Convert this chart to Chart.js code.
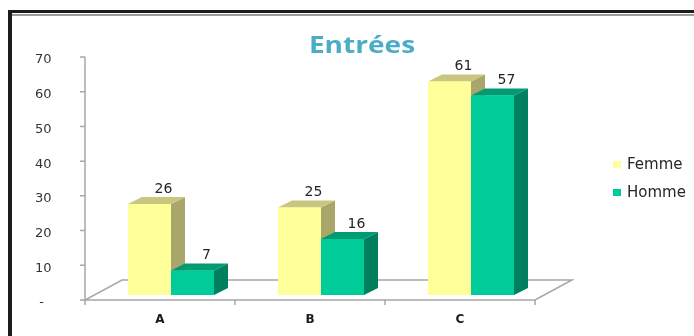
<!DOCTYPE html>
<html>
<head>
<meta charset="utf-8">
<title>Entrées</title>
<script src="https://cdn.jsdelivr.net/npm/chart.js@4.4.1/dist/chart.umd.min.js"></script>
<style>
  html, body { margin: 0; padding: 0; background: #fff; }
  #wrap { width: 694px; height: 336px; }
</style>
</head>
<body>
<div id="wrap"><canvas id="chart" width="694" height="336"></canvas></div>
<script>
// Data
const categories = ["A", "B", "C"];
const femme = [26, 25, 61];
const homme = [7, 16, 57];
const seriesNames = ["Femme", "Homme"];
const yTickStep = 10;
const yMax = 70;
const titleText = "Entrées";

// 3D look (pixels)
const DX = 14, DY = -7;    // bar depth
const FX = 37, FY = -20;   // floor depth
const SHIFT = 11;          // front axis sits left of the bar groups

const faceColors = [
  { front: "#FFFF99", side: "#A8A66B", top: "#C9C77F" },
  { front: "#00CC99", side: "#00805F", top: "#009B73" }
];

function poly(ctx, pts, fill) {
  ctx.beginPath();
  ctx.moveTo(pts[0][0], pts[0][1]);
  for (let i = 1; i < pts.length; i++) ctx.lineTo(pts[i][0], pts[i][1]);
  ctx.closePath();
  ctx.fillStyle = fill;
  ctx.fill();
}

const bar3d = {
  id: "bar3d",
  beforeDraw(chart) {
    const ctx = chart.ctx;
    ctx.save();
    ctx.fillStyle = "#fff";
    ctx.fillRect(0, 0, chart.width, chart.height);
    // frame
    ctx.fillStyle = "#1c1c1c";
    ctx.fillRect(8, 10, chart.width - 8, 3);
    ctx.fillRect(8, 10, 4, chart.height - 10);
    ctx.fillStyle = "#9c9c9c";
    ctx.fillRect(12, 14, chart.width - 12, 2);
    // title
    ctx.font = "bold 23px 'Open Sans'";
    ctx.fillStyle = "#4BACC6";
    ctx.textAlign = "center";
    ctx.textBaseline = "alphabetic";
    ctx.translate(362, 53);
    ctx.scale(1.22, 1);
    ctx.fillText(titleText, 0, 0);
    ctx.restore();
  },
  beforeDatasetsDraw(chart) {
    const { ctx, chartArea, scales } = chart;
    const y = scales.y;
    const x0 = chartArea.left - SHIFT, x1 = chartArea.right - SHIFT;
    const yb = y.getPixelForValue(0), yt = y.getPixelForValue(yMax);
    ctx.save();
    ctx.strokeStyle = "#A6A6A6";
    ctx.lineWidth = 1.5;
    // floor
    ctx.beginPath();
    ctx.moveTo(x0, yb);
    ctx.lineTo(x1, yb);
    ctx.lineTo(x1 + FX, yb + FY);
    ctx.lineTo(x0 + FX, yb + FY);
    ctx.closePath();
    ctx.stroke();
    // value axis and ticks
    ctx.beginPath();
    ctx.moveTo(x0, yt);
    ctx.lineTo(x0, yb);
    for (let v = 0; v <= yMax; v += yTickStep) {
      const p = y.getPixelForValue(v);
      ctx.moveTo(x0 - 5, p);
      ctx.lineTo(x0, p);
    }
    for (let i = 0; i <= categories.length; i++) {
      const xx = x0 + i * (x1 - x0) / categories.length;
      ctx.moveTo(xx, yb);
      ctx.lineTo(xx, yb + 5);
    }
    ctx.stroke();
    ctx.restore();
  },
  afterDatasetsDraw(chart) {
    const ctx = chart.ctx;
    const metas = chart.data.datasets.map((d, i) => chart.getDatasetMeta(i));
    ctx.save();
    // faces, drawn category by category so the order of overlap is right
    categories.forEach((c, j) => {
      metas.forEach((meta, i) => {
        const bar = meta.data[j];
        const { x, y, base, width } = bar.getProps(["x", "y", "base", "width"], true);
        const l = x - width / 2, r = x + width / 2;
        poly(ctx, [[r, y], [r + DX, y + DY], [r + DX, base + DY], [r, base]], faceColors[i].side);
        poly(ctx, [[l, y], [l + DX, y + DY], [r + DX, y + DY], [r, y]], faceColors[i].top);
        bar.draw(ctx);
      });
    });
    // value labels
    ctx.font = "14px 'DejaVu Sans'";
    ctx.fillStyle = "#262626";
    ctx.textAlign = "center";
    ctx.textBaseline = "middle";
    metas.forEach((meta, i) => {
      meta.data.forEach((bar, j) => {
        const v = chart.data.datasets[i].data[j];
        ctx.fillText(String(v), bar.x + DX, bar.y + DY - 8);
      });
    });
    // legend
    ctx.textAlign = "left";
    ctx.font = "15px 'DejaVu Sans'";
    chart.data.datasets.forEach((ds, i) => {
      const cy = 165 + i * 28;
      ctx.fillStyle = ds.backgroundColor;
      ctx.fillRect(613, cy - 4, 8, 7);
      ctx.fillStyle = "#262626";
      ctx.fillText(ds.label, 627, cy);
    });
    ctx.restore();
  }
};

new Chart(document.getElementById("chart"), {
  type: "bar",
  data: {
    labels: categories,
    datasets: [
      { label: seriesNames[0], data: femme, backgroundColor: faceColors[0].front, yAxisID: "y2",
        categoryPercentage: 86 / 150, barPercentage: 1 },
      { label: seriesNames[1], data: homme, backgroundColor: faceColors[1].front, yAxisID: "y2",
        categoryPercentage: 86 / 150, barPercentage: 1 }
    ]
  },
  options: {
    responsive: false,
    animation: false,
    layout: { padding: { left: 35, right: 148, top: 57, bottom: 0 } },
    plugins: {
      legend: { display: false },
      title: { display: false },
      tooltip: { enabled: false }
    },
    scales: {
      x: {
        grid: { display: false, drawTicks: false },
        border: { display: false },
        ticks: {
          padding: 13,
          labelOffset: -SHIFT,
          color: "#1a1a1a",
          font: { family: "DejaVu Sans", size: 12, weight: "bold" }
        },
        afterFit: function (s) { s.height = 36; }
      },
      y: {
        min: 0,
        max: yMax,
        grid: { display: false, drawTicks: false },
        border: { display: false },
        ticks: {
          stepSize: yTickStep,
          padding: 0,
          crossAlign: "far",
          labelOffset: 3,
          color: "#333",
          font: { family: "DejaVu Sans", size: 13 },
          callback: function (v) { return v === 0 ? " -" : v; }
        },
        afterFit: function (s) { s.width = 61; }
      },
      y2: {
        display: false,
        min: -5 / 3.5,
        max: 68
      }
    }
  },
  plugins: [bar3d]
});
</script>
</body>
</html>
